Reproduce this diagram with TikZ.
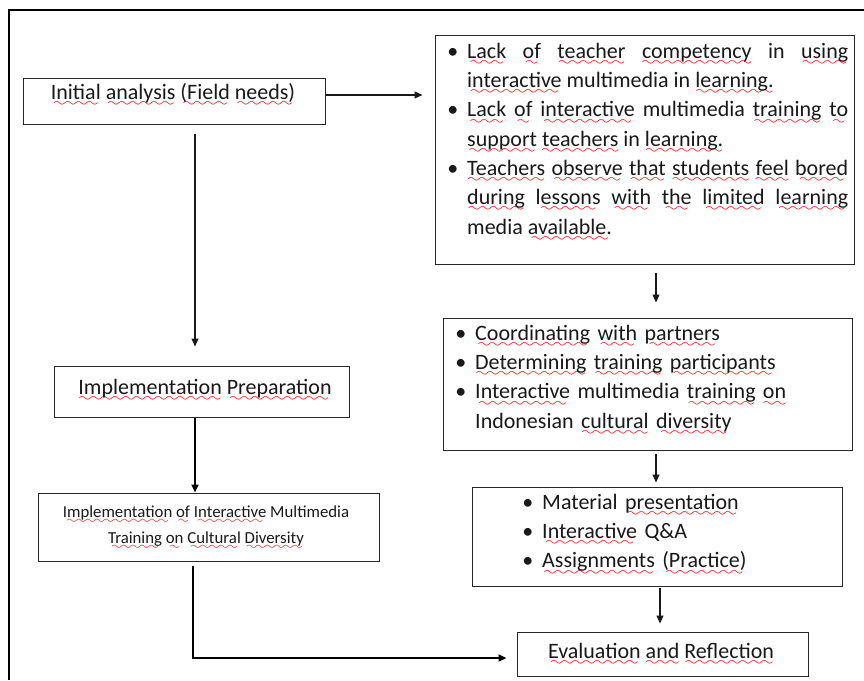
\documentclass[tikz,border=0pt]{standalone}
\usepackage{fontspec}
\setmainfont{Carlito}
\usetikzlibrary{arrows.meta}
\font\wavefont=lasy6 at 13pt
\font\wavefontsm=lasy6 at 11pt
\newsavebox\rwbox
\newcommand\wavechar{\wavefont\char58}
\newcommand\wavelower{7.2pt}
\newcommand\rw[1]{\sbox\rwbox{#1}\leavevmode\rlap{\textcolor{red}{\lower\wavelower\hbox to\wd\rwbox{\cleaders\hbox{\wavechar}\hfill}}}\usebox\rwbox}
\newcommand\bul{\strut\llap{•\hspace{9pt}}}
\setlength\parindent{0pt}
\tolerance=10000
\hbadness=10000
\tikzset{
  box/.style={draw=black!85, line width=1pt, inner sep=0pt},
  txt/.style={inner sep=0pt, text=black!90, font=\fontsize{22}{29.3}\selectfont},
  small/.style={inner sep=0pt, text=black!90, font=\fontsize{16.8}{26}\selectfont\renewcommand\wavechar{\wavefontsm\char58}\renewcommand\wavelower{6pt}},
  arr/.style={-{Triangle[length=8pt,width=7pt]}, line width=1.1pt, draw=black!90},
  tarr/.style={-{Triangle[length=8pt,width=7pt]}, line width=2pt, draw=black},
}
\begin{document}
\begin{tikzpicture}[x=1pt,y=-1pt]
\useasboundingbox (0,0) rectangle (864,680);
\fill[white] (0,0) rectangle (864,680);
\draw[line width=1.5pt] (864,10) -- (9,10) -- (9,680);

% boxes
\node[box, minimum width=302pt, minimum height=46pt] (b1) at (174,101) {};
\node[txt, anchor=base] (t1) at (173,99) {\rw{Initial} \rw{analysis} \rw{(Field} \rw{needs)}};

\node[box, minimum width=295pt, minimum height=51pt] (b2) at (201.5,391.5) {};
\node[txt, anchor=base] (t2) at (205,394) {\rw{Implementation} \rw{Preparation}};

\node[box, minimum width=341pt, minimum height=68pt] (b7) at (208.5,527) {};
\node[small, anchor=base] (t7a) at (206,517) {\rw{Implementation} \rw{of} \rw{Interactive} Multimedia};
\node[small, anchor=base] (t7b) at (206,543) {\rw{Training} \rw{on} \rw{Cultural} \rw{Diversity}};

\node[box, minimum width=419pt, minimum height=229pt] (b3) at (644.5,149.5) {};
\node[txt, anchor=north west, text width=381pt, align=justify] (t3) at (467,37.5) {%
\bul\rw{Lack} \rw{of} \rw{teacher} \rw{competency} in \rw{using}\linebreak
\rw{interactive} multimedia in \rw{learning.}\par
\bul\rw{Lack} \rw{of} \rw{interactive} multimedia \rw{training} \rw{to}\linebreak
\rw{support} \rw{teachers} in \rw{learning.}\par
\bul\rw{Teachers} \rw{observe} \rw{that} \rw{students} \rw{feel} \rw{bored}\linebreak
\rw{during} \rw{lessons} \rw{with} \rw{the} \rw{limited} \rw{learning}\linebreak
media \rw{available.}\par};

\node[box, minimum width=409pt, minimum height=132pt] (b4) at (647.5,384) {};
\node[txt, anchor=north west, text width=370pt, align=left] (t4) at (475,319.5) {%
\bul\rw{Coordinating} \rw{with} \rw{partners}\par
\bul\rw{Determining} \rw{training} \rw{participants}\par
\bul\rw{Interactive} multimedia \rw{training} \rw{on}\newline
Indonesian \rw{cultural} \rw{diversity}\par};

\node[box, minimum width=370pt, minimum height=99pt] (b5) at (657,536.5) {};
\node[txt, anchor=north west, text width=290pt, align=left] (t5) at (542,488.5) {%
\bul Material \rw{presentation}\par
\bul\rw{Interactive} Q\&A\par
\bul\rw{Assignments} \rw{(Practice)}\par};

\node[box, minimum width=291pt, minimum height=44pt] (b6) at (662.5,654) {};
\node[txt, anchor=base] (t6) at (661,658) {\rw{Evaluation} \rw{and} \rw{Reflection}};

% connectors
\draw[arr, shorten >=12pt] ([yshift=6pt]b1.east) -- ([yshift=6pt]b1.east -| b3.west);
\draw[arr] ([xshift=21pt,yshift=-9pt]b1.south) -- ([xshift=-6.5pt,yshift=19pt]b2.north);
\draw[tarr] ([xshift=-6.5pt]b2.south) -- ([xshift=-13.5pt]b7.north);
\draw[tarr] ([xshift=-15.5pt,yshift=-4pt]b7.south) |- ([xshift=-10pt,yshift=-4pt]b6.west);
\draw[arr] ([xshift=11.5pt,yshift=-8pt]b3.south) -- ([xshift=8.5pt,yshift=15pt]b4.north);
\draw[arr] ([xshift=8.5pt,yshift=-3pt]b4.south) -- ([xshift=-1pt,yshift=4pt]b5.north);
\draw[arr] ([xshift=3pt,yshift=-1pt]b5.south) -- ([xshift=-2.5pt,yshift=8pt]b6.north);
\end{tikzpicture}
\end{document}
